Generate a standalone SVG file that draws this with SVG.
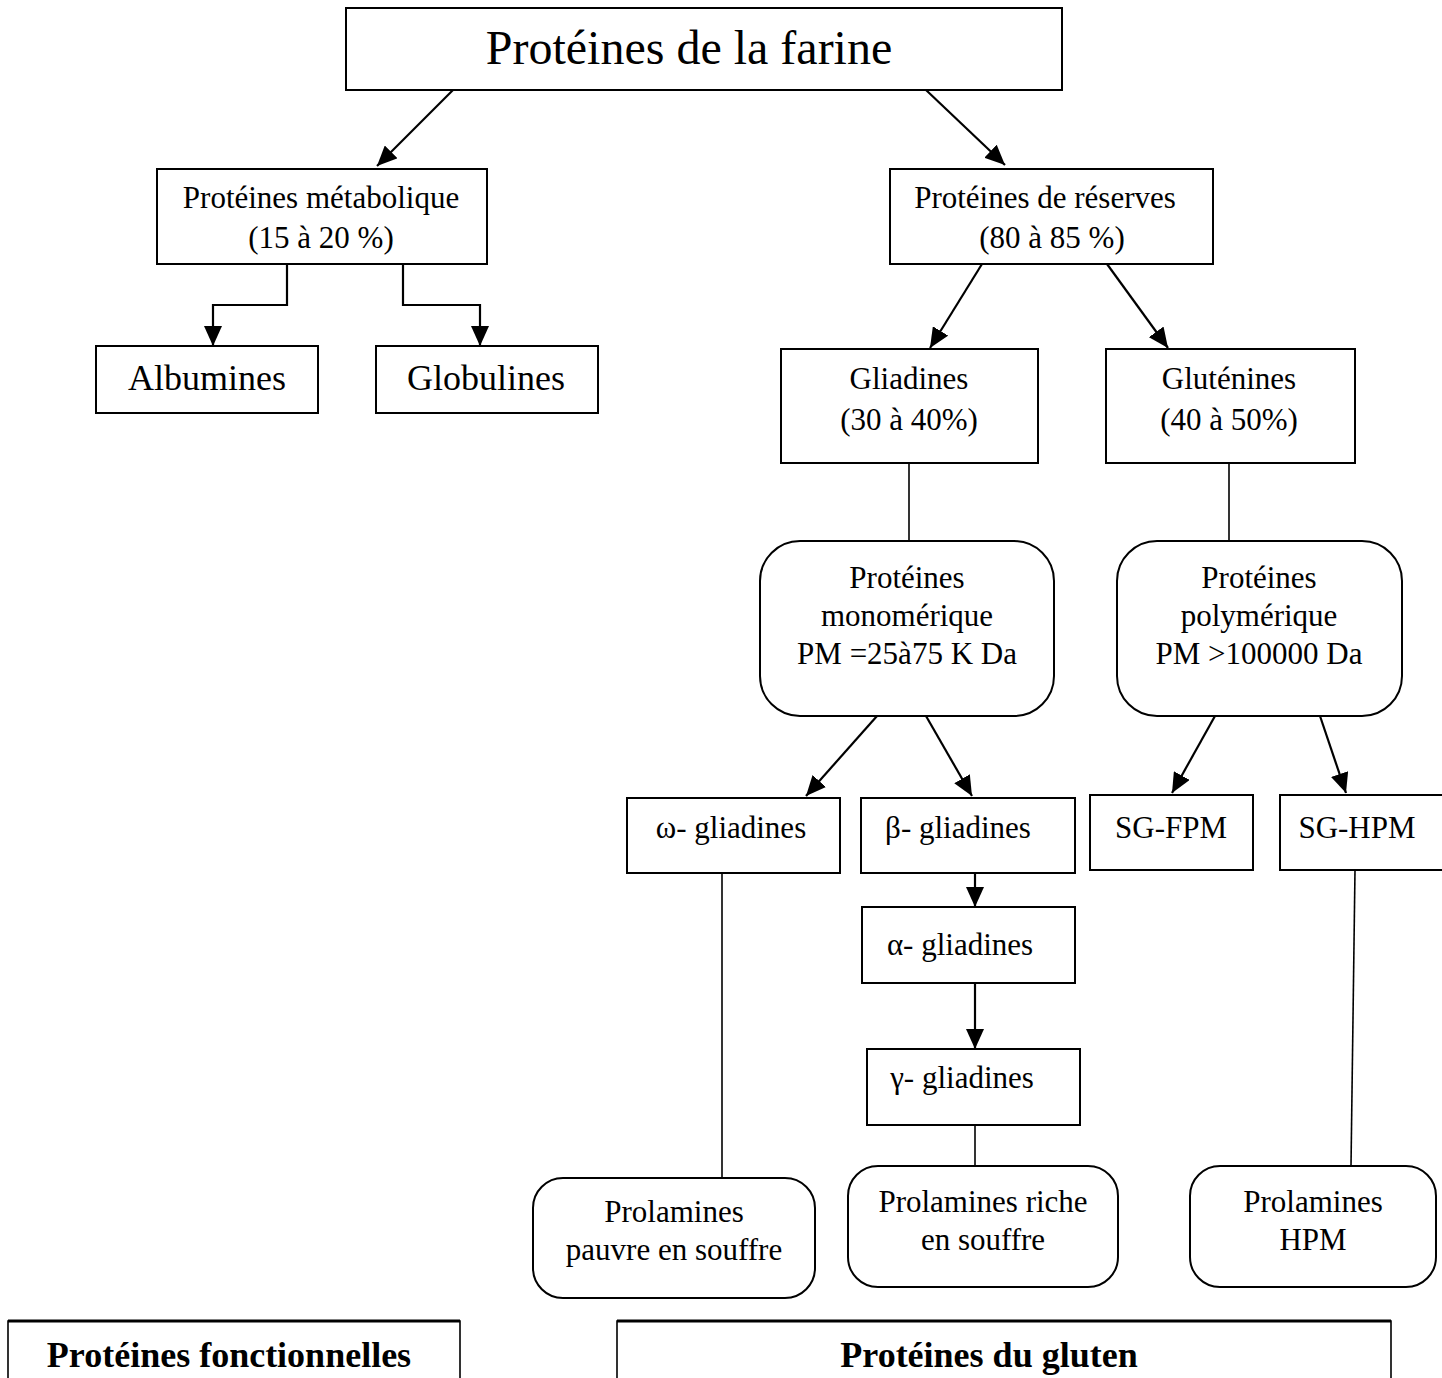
<svg xmlns="http://www.w3.org/2000/svg" width="1442" height="1378" viewBox="0 0 1442 1378">
<style>
.box{fill:#fff;stroke:#000;stroke-width:2}
.t{font-family:"Liberation Serif","Times New Roman",serif;fill:#000;text-anchor:middle}
.f31{font-size:31px}
.f36{font-size:36px}
.f48{font-size:48px}
.b{font-weight:bold;font-size:36px}
.c{fill:none;stroke:#000;stroke-width:2.2}
.l{fill:none;stroke:#000;stroke-width:1.6}
</style>
<defs>
<marker id="ah" markerUnits="userSpaceOnUse" markerWidth="22" markerHeight="18" refX="20" refY="9" orient="auto">
<path d="M0,0 L20,9 L0,18 Z" fill="#000"/>
</marker>
</defs>
<rect width="1442" height="1378" fill="#fff"/>
<g id="connectors">
<line class="c" x1="453" y1="90" x2="377" y2="166" marker-end="url(#ah)"/>
<line class="c" x1="926" y1="90" x2="1005" y2="165" marker-end="url(#ah)"/>
<polyline class="c" points="287,264 287,305 213,305 213,346" marker-end="url(#ah)"/>
<polyline class="c" points="403,264 403,305 480,305 480,346" marker-end="url(#ah)"/>
<line class="c" x1="982" y1="264" x2="930" y2="348" marker-end="url(#ah)"/>
<line class="c" x1="1107" y1="264" x2="1168" y2="348" marker-end="url(#ah)"/>
<line class="l" x1="909" y1="463" x2="909" y2="541"/>
<line class="l" x1="1229" y1="463" x2="1229" y2="541"/>
<line class="c" x1="877" y1="716" x2="806" y2="796" marker-end="url(#ah)"/>
<line class="c" x1="926" y1="716" x2="972" y2="796" marker-end="url(#ah)"/>
<line class="c" x1="1215" y1="716" x2="1172" y2="793" marker-end="url(#ah)"/>
<line class="c" x1="1320" y1="716" x2="1346" y2="793" marker-end="url(#ah)"/>
<line class="c" x1="975" y1="851" x2="975" y2="907" marker-end="url(#ah)"/>
<line class="c" x1="975" y1="983" x2="975" y2="1049" marker-end="url(#ah)"/>
<line class="l" x1="975" y1="1125" x2="975" y2="1166"/>
<line class="l" x1="722" y1="873" x2="722" y2="1178"/>
<line class="l" x1="1355" y1="870" x2="1351" y2="1166"/>
</g>
<g id="n-farine"><rect class="box" x="346" y="8" width="716" height="82"/><text class="t f48" x="689" y="64">Protéines de la farine</text></g>
<g id="n-metabolique"><rect class="box" x="157" y="169" width="330" height="95"/><text class="t f31" x="321" y="208">Protéines métabolique</text><text class="t f31" x="321" y="248">(15 à 20 %)</text></g>
<g id="n-reserves"><rect class="box" x="890" y="169" width="323" height="95"/><text class="t f31" x="1045" y="208">Protéines de réserves</text><text class="t f31" x="1052" y="248">(80 à 85 %)</text></g>
<g id="n-albumines"><rect class="box" x="96" y="346" width="222" height="67"/><text class="t f36" x="207" y="390">Albumines</text></g>
<g id="n-globulines"><rect class="box" x="376" y="346" width="222" height="67"/><text class="t f36" x="486" y="390">Globulines</text></g>
<g id="n-gliadines"><rect class="box" x="781" y="349" width="257" height="114"/><text class="t f31" x="909" y="389">Gliadines</text><text class="t f31" x="909" y="430">(30 à 40%)</text></g>
<g id="n-glutenines"><rect class="box" x="1106" y="349" width="249" height="114"/><text class="t f31" x="1229" y="389">Gluténines</text><text class="t f31" x="1229" y="430">(40 à 50%)</text></g>
<g id="n-mono"><rect class="box" x="760" y="541" width="294" height="175" rx="40"/><text class="t f31" x="907" y="588">Protéines</text><text class="t f31" x="907" y="626">monomérique</text><text class="t f31" x="907" y="664">PM =25à75 K Da</text></g>
<g id="n-poly"><rect class="box" x="1117" y="541" width="285" height="175" rx="40"/><text class="t f31" x="1259" y="588">Protéines</text><text class="t f31" x="1259" y="626">polymérique</text><text class="t f31" x="1259" y="664">PM &gt;100000 Da</text></g>
<g id="n-omega"><rect class="box" x="627" y="798" width="213" height="75"/><text class="t f31" x="731" y="838">ω- gliadines</text></g>
<g id="n-beta"><rect class="box" x="861" y="798" width="214" height="75"/><text class="t f31" x="958" y="838">β- gliadines</text></g>
<g id="n-sgfpm"><rect class="box" x="1090" y="795" width="163" height="75"/><text class="t f31" x="1171" y="838">SG-FPM</text></g>
<g id="n-sghpm"><rect class="box" x="1280" y="795" width="170" height="75"/><text class="t f31" x="1357" y="838">SG-HPM</text></g>
<g id="n-alpha"><rect class="box" x="862" y="907" width="213" height="76"/><text class="t f31" x="960" y="955">α- gliadines</text></g>
<g id="n-gamma"><rect class="box" x="867" y="1049" width="213" height="76"/><text class="t f31" x="962" y="1088">γ- gliadines</text></g>
<g id="n-pauvre"><rect class="box" x="533" y="1178" width="282" height="120" rx="30"/><text class="t f31" x="674" y="1222">Prolamines</text><text class="t f31" x="674" y="1260">pauvre en souffre</text></g>
<g id="n-riche"><rect class="box" x="848" y="1166" width="270" height="121" rx="30"/><text class="t f31" x="983" y="1212">Prolamines riche</text><text class="t f31" x="983" y="1250">en souffre</text></g>
<g id="n-hpm"><rect class="box" x="1190" y="1166" width="246" height="121" rx="30"/><text class="t f31" x="1313" y="1212">Prolamines</text><text class="t f31" x="1313" y="1250">HPM</text></g>
<g id="n-fonctionnelles"><path d="M8,1390 V1321 H460 V1390" fill="none" stroke="#000" stroke-width="1.6"/><line x1="8" y1="1321" x2="460" y2="1321" stroke="#000" stroke-width="3"/><text class="t b" x="229" y="1367">Protéines fonctionnelles</text></g>
<g id="n-gluten"><path d="M617,1390 V1321 H1391 V1390" fill="none" stroke="#000" stroke-width="1.6"/><line x1="617" y1="1321" x2="1391" y2="1321" stroke="#000" stroke-width="3"/><text class="t b" x="989" y="1367">Protéines du gluten</text></g>
</svg>
